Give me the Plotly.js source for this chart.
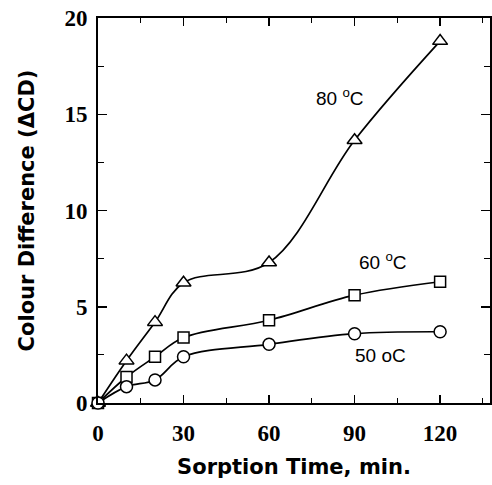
<!DOCTYPE html>
<html><head><meta charset="utf-8">
<script src="https://cdn.plot.ly/plotly-3.0.1.min.js"></script>
<style>html,body{margin:0;padding:0;background:#fff}</style>
</head><body><div id="chart" style="width:492px;height:485px"></div>
<script>
const time = [0, 10, 20, 30, 60, 90, 120];
const cd80 = [0, 2.2, 4.2, 6.25, 7.3, 13.65, 18.8];
const cd60 = [0, 1.35, 2.4, 3.4, 4.3, 5.6, 6.3];
const cd50 = [0, 0.85, 1.2, 2.4, 3.05, 3.6, 3.7];
const xTicks = [0, 30, 60, 90, 120];
const yTicks = [0, 5, 10, 15, 20];

function tr(y, sym, size) {
  return {x: time, y: y, mode: 'lines+markers', type: 'scatter',
    line: {color: '#000', width: 1.7, shape: 'spline', smoothing: 1},
    marker: {symbol: sym, size: size, color: '#fff', line: {color: '#000', width: 1.5}},
    cliponaxis: false, showlegend: false};
}
const data = [tr(cd80, 'triangle-up', 13), tr(cd60, 'square', 11), tr(cd50, 'circle', 12)];
const serif = {family: 'Liberation Serif, Times New Roman, serif', size: 23, color: '#000', weight: 'bold'};
const sans = {family: 'Liberation Sans, Arial, sans-serif', size: 19, color: '#000'};
const titleFont = {family: 'DejaVu Sans, sans-serif', size: 21, color: '#000', weight: 'bold'};
const layout = {
  width: 492, height: 485,
  margin: {l: 98, r: 2, t: 18, b: 82},
  paper_bgcolor: '#fff', plot_bgcolor: '#fff',
  xaxis: {range: [0, 137.5], tickvals: xTicks, ticktext: xTicks.map(String),
    showline: true, linecolor: '#000', linewidth: 2, mirror: 'allticks',
    ticks: 'inside', ticklen: 8, tickwidth: 1.5, tickcolor: '#000', ticklabelstandoff: 8,
    minor: {dtick: 15, tick0: 0, ticks: 'inside', ticklen: 5, tickwidth: 1.2, tickcolor: '#000', showgrid: false},
    showgrid: false, zeroline: false, tickfont: serif,
    title: {text: 'Sorption Time, min.', font: titleFont, standoff: 15}},
  yaxis: {range: [0, 20], tickvals: yTicks, ticktext: yTicks.map(String),
    showline: true, linecolor: '#000', linewidth: 2, mirror: 'allticks',
    ticks: 'inside', ticklen: 9, tickwidth: 1.5, tickcolor: '#000', ticklabelstandoff: 4,
    minor: {dtick: 2.5, tick0: 0, ticks: 'inside', ticklen: 6, tickwidth: 1.2, tickcolor: '#000', showgrid: false},
    showgrid: false, zeroline: false, tickfont: serif,
    title: {text: 'Colour Difference (ΔCD)', font: titleFont, standoff: 24}},
  annotations: [
    {x: 85, y: 15.9, text: '80 <sup>o</sup>C', showarrow: false, font: sans},
    {x: 100, y: 7.4, text: '60 <sup>o</sup>C', showarrow: false, font: sans},
    {x: 99, y: 2.45, text: '50 oC', showarrow: false, font: sans}
  ]
};
Plotly.newPlot('chart', data, layout, {displayModeBar: false, staticPlot: true});
</script></body></html>
